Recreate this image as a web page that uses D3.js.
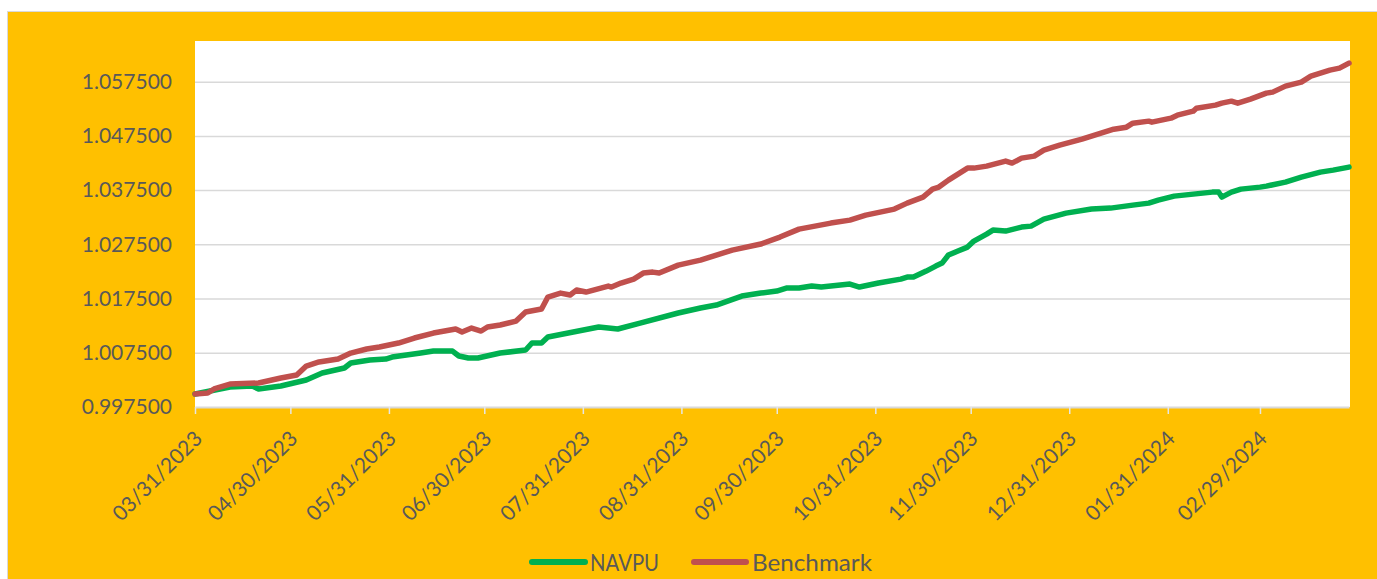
<!DOCTYPE html>
<html>
<head>
<meta charset="utf-8">
<script src="https://cdn.jsdelivr.net/npm/d3@7"></script>
<style>
  html, body { margin: 0; padding: 0; background: #ffffff; }
  svg { display: block; }
  text { font-family: Lato, "Open Sans", sans-serif; fill: #595959; }
</style>
</head>
<body>
<svg id="chart" width="1377" height="579"></svg>
<script>
// ---- Data ----
const seriesNames = ["NAVPU", "Benchmark"];

const navDates = ["2023-03-31","2023-04-11","2023-04-18","2023-04-20","2023-04-27","2023-05-05","2023-05-10","2023-05-17","2023-05-19","2023-05-25","2023-05-30","2023-06-01","2023-06-10","2023-06-14","2023-06-20","2023-06-22","2023-06-25","2023-06-28","2023-07-05","2023-07-13","2023-07-15","2023-07-18","2023-07-20","2023-07-28","2023-08-05","2023-08-11","2023-08-18","2023-08-30","2023-09-06","2023-09-11","2023-09-19","2023-09-25","2023-09-30","2023-10-03","2023-10-07","2023-10-11","2023-10-14","2023-10-23","2023-10-26","2023-11-01","2023-11-08","2023-11-10","2023-11-12","2023-11-16","2023-11-19","2023-11-21","2023-11-23","2023-11-26","2023-11-29","2023-12-01","2023-12-05","2023-12-07","2023-12-11","2023-12-16","2023-12-19","2023-12-23","2023-12-30","2024-01-07","2024-01-13","2024-01-20","2024-01-25","2024-01-28","2024-02-02","2024-02-14","2024-02-16","2024-02-17","2024-02-20","2024-02-23","2024-02-29","2024-03-02","2024-03-08","2024-03-13","2024-03-19","2024-03-23","2024-03-28"];
const navValues = [0.99990,1.00119,1.00137,1.00082,1.00137,1.00248,1.00377,1.00469,1.00561,1.00616,1.00635,1.00672,1.00745,1.00782,1.00782,1.00690,1.00653,1.00653,1.00745,1.00801,1.00930,1.00930,1.01040,1.01132,1.01225,1.01188,1.01298,1.01483,1.01575,1.01630,1.01796,1.01851,1.01888,1.01944,1.01944,1.01981,1.01962,1.02017,1.01962,1.02036,1.02109,1.02146,1.02146,1.02257,1.02349,1.02404,1.02552,1.02626,1.02699,1.02810,1.02939,1.03013,1.02994,1.03068,1.03086,1.03215,1.03326,1.03400,1.03418,1.03473,1.03510,1.03566,1.03639,1.03713,1.03713,1.03621,1.03713,1.03768,1.03805,1.03824,1.03898,1.03990,1.04082,1.04119,1.04174];

const benchDates = ["2023-03-31","2023-04-04","2023-04-06","2023-04-11","2023-04-20","2023-04-27","2023-05-02","2023-05-05","2023-05-09","2023-05-15","2023-05-19","2023-05-24","2023-05-28","2023-06-03","2023-06-08","2023-06-14","2023-06-21","2023-06-23","2023-06-26","2023-06-29","2023-07-01","2023-07-05","2023-07-10","2023-07-13","2023-07-18","2023-07-20","2023-07-24","2023-07-27","2023-07-29","2023-08-01","2023-08-08","2023-08-09","2023-08-12","2023-08-16","2023-08-19","2023-08-22","2023-08-24","2023-08-30","2023-09-06","2023-09-10","2023-09-16","2023-09-25","2023-10-01","2023-10-07","2023-10-17","2023-10-23","2023-10-28","2023-11-06","2023-11-10","2023-11-15","2023-11-18","2023-11-20","2023-11-23","2023-11-29","2023-12-01","2023-12-05","2023-12-11","2023-12-13","2023-12-16","2023-12-20","2023-12-23","2023-12-28","2024-01-04","2024-01-10","2024-01-14","2024-01-18","2024-01-20","2024-01-25","2024-01-26","2024-02-01","2024-02-03","2024-02-08","2024-02-09","2024-02-15","2024-02-17","2024-02-20","2024-02-22","2024-02-26","2024-03-02","2024-03-04","2024-03-08","2024-03-13","2024-03-16","2024-03-22","2024-03-25","2024-03-28"];
const benchValues = [0.99990,1.00008,1.00082,1.00174,1.00192,1.00285,1.00340,1.00506,1.00580,1.00635,1.00745,1.00819,1.00856,1.00930,1.01022,1.01114,1.01188,1.01132,1.01206,1.01151,1.01225,1.01262,1.01335,1.01501,1.01556,1.01778,1.01851,1.01815,1.01907,1.01870,1.01981,1.01962,1.02036,1.02109,1.02220,1.02238,1.02220,1.02367,1.02460,1.02533,1.02644,1.02755,1.02884,1.03031,1.03142,1.03197,1.03289,1.03400,1.03510,1.03621,1.03769,1.03806,1.03934,1.04156,1.04156,1.04192,1.04285,1.04248,1.04340,1.04377,1.04487,1.04579,1.04690,1.04801,1.04874,1.04911,1.04985,1.05022,1.05003,1.05077,1.05132,1.05206,1.05261,1.05317,1.05354,1.05391,1.05354,1.05428,1.05539,1.05557,1.05668,1.05742,1.05852,1.05963,1.06000,1.06092];

const yTickValues = [0.9975, 1.0075, 1.0175, 1.0275, 1.0375, 1.0475, 1.0575];
const xTickLabels = ["03/31/2023","04/30/2023","05/31/2023","06/30/2023","07/31/2023","08/31/2023","09/30/2023","10/31/2023","11/30/2023","12/31/2023","01/31/2024","02/29/2024"];

// ---- Setup ----
const parseISO = d3.timeParse("%Y-%m-%d");
const parseUS = d3.timeParse("%m/%d/%Y");
const fmtUS = d3.timeFormat("%m/%d/%Y");

const svg = d3.select("#chart");
const W = 1377, H = 579;
const plot = { left: 195, top: 41, right: 1349, bottom: 407 };

// chart background (orange) with light border
svg.append("rect")
  .attr("x", 7.5).attr("y", 11.5)
  .attr("width", W - 7).attr("height", H - 11)
  .attr("fill", "#FFC000").attr("stroke", "#d9d9d9").attr("stroke-width", 1);

// plot area
svg.append("rect")
  .attr("x", plot.left).attr("y", plot.top)
  .attr("width", plot.right - plot.left + 1).attr("height", plot.bottom - plot.top)
  .attr("fill", "#ffffff");

const x = d3.scaleTime()
  .domain([parseISO("2023-03-31"), parseISO("2024-03-28")])
  .range([plot.left, plot.right]);
const y = d3.scaleLinear()
  .domain([0.9975, 1.065])
  .range([plot.bottom, plot.top]);

// gridlines
svg.append("g")
  .attr("transform", `translate(${plot.left},0)`)
  .call(d3.axisLeft(y).tickValues(yTickValues.slice(1)).tickSize(-(plot.right - plot.left + 1)).tickFormat(""))
  .call(g => g.select(".domain").remove())
  .call(g => g.selectAll("line").attr("stroke", "#d9d9d9").attr("stroke-width", 1.5));

// y axis labels
svg.append("g")
  .attr("transform", `translate(${plot.left},0)`)
  .call(d3.axisLeft(y).tickValues(yTickValues).tickSize(0).tickPadding(23).tickFormat(d3.format(".6f")))
  .call(g => g.select(".domain").remove())
  .call(g => g.selectAll("text")
    .attr("font-size", 21)
    .attr("font-family", "Lato, 'Open Sans', sans-serif")
    .attr("fill", "#595959"));

// x axis
const xTicks = xTickLabels.map(parseUS);
const xAxisG = svg.append("g")
  .attr("transform", `translate(0,${plot.bottom})`)
  .call(d3.axisBottom(x).tickValues(xTicks).tickSize(7).tickSizeOuter(0).tickFormat(fmtUS));
xAxisG.select(".domain").attr("stroke", "#d9d9d9").attr("stroke-width", 2);
xAxisG.selectAll(".tick line").attr("stroke", "#e6e6e6").attr("stroke-width", 1.5);
xAxisG.selectAll(".tick text")
  .attr("font-size", 21)
  .attr("font-family", "Lato, 'Open Sans', sans-serif")
  .attr("fill", "#595959")
  .attr("text-anchor", "end")
  .attr("y", 0).attr("dy", 0)
  .attr("transform", "translate(8,33) rotate(-45)");

// lines
const line = d3.line()
  .x(d => x(d.date))
  .y(d => y(d.value))
  .curve(d3.curveLinear);

const navData = navDates.map((d, i) => ({ date: parseISO(d), value: navValues[i] }));
const benchData = benchDates.map((d, i) => ({ date: parseISO(d), value: benchValues[i] }));
const colors = { NAVPU: "#00B050", Benchmark: "#C0504D" };

svg.append("path").datum(navData)
  .attr("d", line).attr("fill", "none")
  .attr("stroke", colors.NAVPU).attr("stroke-width", 5.5)
  .attr("stroke-linejoin", "round").attr("stroke-linecap", "round");
svg.append("path").datum(benchData)
  .attr("d", line).attr("fill", "none")
  .attr("stroke", colors.Benchmark).attr("stroke-width", 5.5)
  .attr("stroke-linejoin", "round").attr("stroke-linecap", "round");

// legend
const legend = svg.append("g").attr("transform", "translate(0,562)");
const legendItems = [
  { name: seriesNames[0], x1: 532, x2: 585, tx: 590, len: 69 },
  { name: seriesNames[1], x1: 694, x2: 746, tx: 752, len: 120 }
];
legendItems.forEach(it => {
  legend.append("line")
    .attr("x1", it.x1).attr("x2", it.x2).attr("y1", 0).attr("y2", 0)
    .attr("stroke", colors[it.name]).attr("stroke-width", 6).attr("stroke-linecap", "round");
  legend.append("text")
    .attr("x", it.tx).attr("y", 0).attr("dy", "0.36em")
    .attr("font-size", 24)
    .attr("fill", "#595959")
    .attr("textLength", it.len)
    .attr("lengthAdjust", "spacingAndGlyphs")
    .text(it.name);
});
</script>
</body>
</html>
